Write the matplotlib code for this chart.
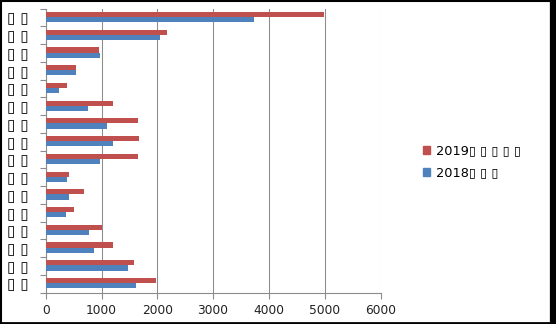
import matplotlib
matplotlib.use("Agg")
import matplotlib.pyplot as plt
from matplotlib.lines import Line2D
from matplotlib.patches import Patch
import numpy as np

# categories listed bottom -> top (labels rendered as missing-glyph boxes in the reference)
categories = ["▯ ▯"] * 16
series_2019 = [1970, 1590, 1200, 1000, 510, 690, 420, 1650,
               1670, 1650, 1200, 390, 540, 960, 2170, 4980]
series_2018 = [1610, 1470, 860, 780, 370, 420, 390, 970,
               1200, 1100, 760, 230, 540, 975, 2050, 3740]
label_2019 = "2019▯ ▯ ▯ ▯ ▯"
label_2018 = "2018▯ ▯ ▯"
xticks = [0, 1000, 2000, 3000, 4000, 5000, 6000]

red = "#C0504D"
blue = "#4F81BD"
gray = "#8C8C8C"

fig = plt.figure(figsize=(5.56, 3.24), dpi=100)
fig.patch.set_facecolor("white")
ax = fig.add_axes([45.7 / 556, 31.5 / 324, 334.8 / 556, 283.8 / 324])

y = np.arange(len(categories))
h = 0.29
ax.barh(y + h / 2 + 0.03, series_2019, height=h, color=red, label=label_2019, zorder=3)
ax.barh(y - h / 2 + 0.03, series_2018, height=h, color=blue, label=label_2018, zorder=3)

ax.set_xlim(0, 6000)
ax.set_ylim(-0.5, len(categories) - 0.5)
ax.set_xticks(xticks)
ax.set_xticklabels([str(v) for v in xticks], fontsize=8.8, color="#222222")
ax.set_yticks(y)
ax.set_yticklabels(categories, fontsize=11, color="black")
ax.set_yticks(np.arange(len(categories) + 1) - 0.5, minor=True)
ax.tick_params(axis="y", which="major", length=0, pad=12)
ax.tick_params(axis="y", which="minor", length=4, color=gray, width=0.8)
ax.tick_params(axis="x", which="major", length=4, color=gray, width=0.8, pad=4)

ax.grid(axis="x", color=gray, linewidth=0.75, zorder=0)
for s in ["top", "right"]:
    ax.spines[s].set_visible(False)
for s in ["left", "bottom"]:
    ax.spines[s].set_color(gray)
    ax.spines[s].set_linewidth(0.8)

handles = [Patch(color=red, label=label_2019), Patch(color=blue, label=label_2018)]
ax.legend(handles=handles, loc="center left", bbox_to_anchor=(411 / 556, 1 - 162 / 324),
          bbox_transform=fig.transFigure, frameon=False, fontsize=9.3,
          handlelength=0.6, handleheight=0.6, handletextpad=0.45, labelspacing=0.7)

# figure border
fig.add_artist(Line2D([0.5 / 556, 0.5 / 556], [0, 1], transform=fig.transFigure, color="black", lw=1.5))
fig.add_artist(Line2D([0, 1], [1 - 0.7 / 324, 1 - 0.7 / 324], transform=fig.transFigure, color="black", lw=1.5))
fig.add_artist(Line2D([1 - 3 / 556, 1 - 3 / 556], [0, 1], transform=fig.transFigure, color="black", lw=4.5))
fig.add_artist(Line2D([0, 1], [1.3 / 324, 1.3 / 324], transform=fig.transFigure, color="black", lw=2))

fig.savefig("out.png", dpi=100, facecolor="white")
